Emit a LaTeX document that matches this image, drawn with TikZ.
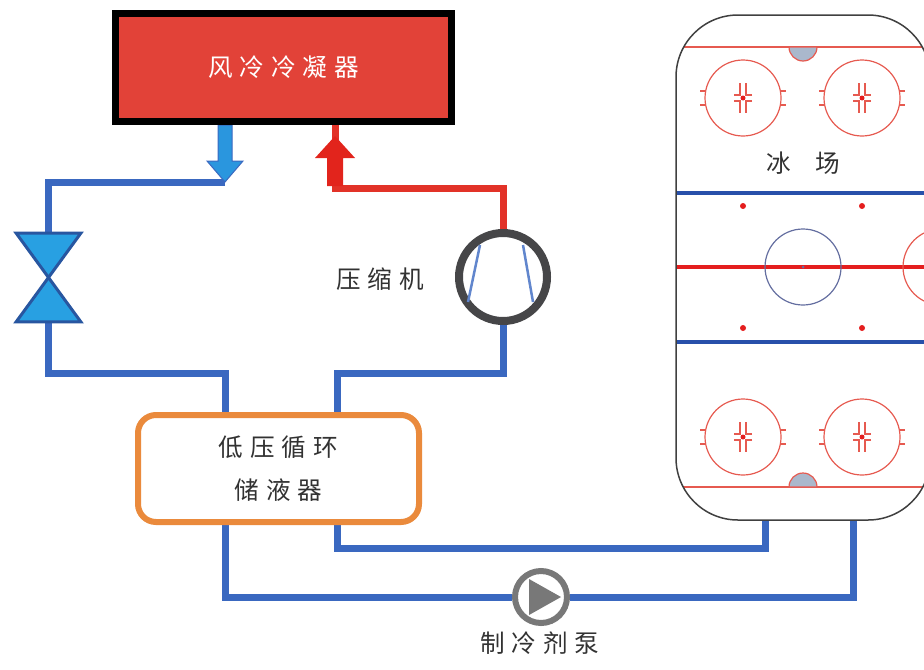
\documentclass[tikz,border=0pt]{standalone}
\usepackage{fontspec}
\newfontfamily\cjk[LetterSpace=28]{Noto Sans CJK SC}
\usetikzlibrary{backgrounds}

\newlength{\du}
\setlength{\du}{0.2mm}

\tikzset{
  pipe/.style={draw=pipeblue, line width=7\du},
  hotpipe/.style={draw=pipered, line width=7\du},
  cntext/.style={font=\cjk\fontsize{14}{24.4}\selectfont, text=textgray, inner sep=0pt},
  condenser/.style={cntext, text=white, draw=black, fill=condred, line width=7\du, minimum width=336\du, minimum height=108\du},
  valve/.style={inner sep=0pt, minimum width=64\du, minimum height=88\du},
  valvebody/.style={fill=valveblue, draw=valveedge, line width=3\du},
  compressor/.style={circle, draw=ringgray, fill=white, line width=8\du, minimum size=88\du, inner sep=0pt},
  compline/.style={draw=pipeblue!80!white, line width=2.5\du},
  tank/.style={cntext, draw=tankorange, fill=white, line width=6\du, rounded corners=18\du, minimum width=281\du, minimum height=107\du, align=center},
  pump/.style={circle, draw=pumpgray, fill=white, line width=6\du, minimum size=52\du, inner sep=0pt},
  rink/.style={draw=black!75, line width=1.5\du, rounded corners=62\du, minimum width=254\du, minimum height=505\du, inner sep=0pt},
  rinkred/.style={draw=circlered, line width=1.2\du},
}

\begin{document}
\begin{tikzpicture}[x=\du, y=-\du]
\definecolor{pipeblue}{rgb}{0.227451, 0.407843, 0.752941}
\definecolor{pipered}{rgb}{0.886275, 0.196078, 0.156863}
\definecolor{condred}{rgb}{0.886275, 0.258824, 0.219608}
\definecolor{valveblue}{rgb}{0.156863, 0.627451, 0.886275}
\definecolor{valveedge}{rgb}{0.156863, 0.337255, 0.627451}
\definecolor{ringgray}{rgb}{0.274510, 0.274510, 0.282353}
\definecolor{tankorange}{rgb}{0.917647, 0.541176, 0.235294}
\definecolor{pumpgray}{rgb}{0.470588, 0.470588, 0.470588}
\definecolor{circlered}{rgb}{0.901961, 0.352941, 0.313725}
\definecolor{linered}{rgb}{0.894118, 0.117647, 0.117647}
\definecolor{lineblue}{rgb}{0.156863, 0.313725, 0.666667}
\definecolor{crease}{rgb}{0.666667, 0.721569, 0.800000}
\definecolor{centerblue}{rgb}{0.392157, 0.431373, 0.627451}
\definecolor{textgray}{rgb}{0.196078, 0.196078, 0.196078}
\definecolor{arrowblue}{rgb}{0.164706, 0.588235, 0.870588}
\definecolor{arrowred}{rgb}{0.886275, 0.141176, 0.109804}
\useasboundingbox (0,0) rectangle (924,669);
\clip (0,0) rectangle (924,669);

% units
\node[condenser] (cond) at (283.5,67.5) {风冷冷凝器};
\node[valve] (valve) at (48.5,277.5) {};
\filldraw[valvebody] (valve.north west) -- (valve.north east) -- (valve.center) -- cycle;
\filldraw[valvebody] (valve.south west) -- (valve.south east) -- (valve.center) -- cycle;
\node[compressor] (comp) at (503,277) {};
\draw[compline] (comp.center) ++(-23,-32) -- ++(-12,57);
\draw[compline] (comp.center) ++(20,-32) -- ++(10,57);
\node[cntext] (complabel) at (380,279) {压缩机};
\node[tank] (tank) at (278.5,468.5) {低压循环\\储液器};
\node[pump] (pump) at (541,597) {};
\fill[pumpgray] (pump.center) ++(-12,-18) -- ++(0,36) -- ++(32,-18) -- cycle;
\node[cntext] (pumplabel) at (540,643) {制冷剂泵};

% ice rink
\begin{scope}
\clip[rounded corners=62\du] (676,15) rectangle (930,520);
\draw[rinkred] (676,47) -- (930,47);
\draw[rinkred] (676,487) -- (930,487);
\filldraw[fill=crease, rinkred] (789,47) arc (180:0:14) -- cycle;
\filldraw[fill=crease, rinkred] (789,487) arc (180:360:14) -- cycle;
\draw[draw=lineblue, line width=4\du] (676,193) -- (930,193);
\draw[draw=lineblue, line width=4\du] (676,342) -- (930,342);
\draw[draw=linered, line width=4\du] (676,267) -- (930,267);
\foreach \fx/\fy in {743/98, 862/98, 743/437, 862/437} {
  \draw[rinkred] (\fx,\fy) circle (38);
  \draw[rinkred] (\fx-37,\fy-7) -- (\fx-43,\fy-7) (\fx-37,\fy+7) -- (\fx-43,\fy+7);
  \draw[rinkred] (\fx+37,\fy-7) -- (\fx+43,\fy-7) (\fx+37,\fy+7) -- (\fx+43,\fy+7);
  \foreach \sx/\sy in {-1/-1, 1/-1, -1/1, 1/1}
    \draw[rinkred] (\fx+\sx*9,\fy+\sy*3) -- (\fx+\sx*3,\fy+\sy*3) -- (\fx+\sx*3,\fy+\sy*15);
  \fill[linered] (\fx,\fy) circle (2.5);
}
\foreach \fx in {743, 862}
  \foreach \fy in {206, 328}
    \fill[linered] (\fx,\fy) circle (3);
\draw[draw=centerblue, line width=1.2\du] (803,267) circle (38);
\fill[centerblue] (803,267) circle (1.5);
\draw[rinkred] (941,267) circle (38);
\end{scope}
\node[rink] (rink) at (803,267.5) {};
\node[cntext] (rinklabel) at (803,163) {冰\hspace{24\du}场};

% pipes
\coordinate (dna) at (225,182);
\coordinate (upa) at (335,136);
\coordinate (hot) at (335,188);
\coordinate (lin) at (225,373);
\coordinate (rin) at (337,373);
\coordinate (ret) at (765,548);
\coordinate (feed) at (853,597);
\begin{pgfonlayer}{background}
\draw[pipe] (dna) -| (valve.north);
\draw[pipe] (valve.south) |- (lin) -- (lin |- tank.north);
\draw[pipe] (rin |- tank.north) -- (rin) -| (comp.south);
\draw[hotpipe] (comp.north) |- (hot) -- (hot |- cond.south);
\draw[pipe] (lin |- tank.south) |- (pump.west);
\draw[pipe] (pump.east) -| (feed |- rink.south);
\draw[pipe] (rin |- tank.south) |- (ret) -- (ret |- rink.south);
\filldraw[fill=arrowblue, draw=pipeblue, line width=1\du] (dna) -- ++(18,-21) -- ++(-11,0) -- ++(0,-36) -- ++(-14,0) -- ++(0,36) -- ++(-11,0) -- cycle;
\fill[arrowred] (upa) -- ++(20,22) -- ++(-12,0) -- ++(0,28) -- ++(-16,0) -- ++(0,-28) -- ++(-12,0) -- cycle;
\end{pgfonlayer}
\end{tikzpicture}
\end{document}
